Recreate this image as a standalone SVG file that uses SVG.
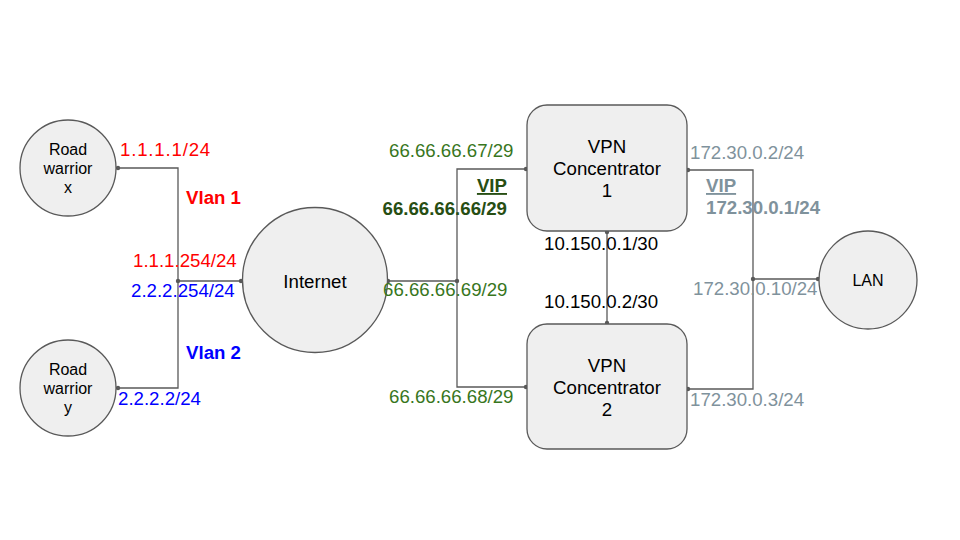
<svg xmlns="http://www.w3.org/2000/svg" width="960" height="540" viewBox="0 0 960 540">
<defs>
<marker id="dot" markerWidth="6" markerHeight="6" refX="3" refY="3" markerUnits="userSpaceOnUse">
<circle cx="3" cy="3" r="2.2" fill="#595959"/>
</marker>
<style>
.node{fill:#efefef;stroke:#595959;stroke-width:1.3}
.conn{fill:none;stroke:#595959;stroke-width:1.3;marker-start:url(#dot);marker-end:url(#dot)}
text{font-family:"Liberation Sans",Arial,sans-serif}
.nt{font-size:16px;fill:#000;text-anchor:middle}
.bt{font-size:18.67px;fill:#000;text-anchor:middle}
.l{font-size:18.67px}
.b{font-weight:bold}
.red{fill:#ff0000}
.blue{fill:#0000ff}
.grn{fill:#38761d}
.dgrn{fill:#274e13}
.gry{fill:#7f929c}
.blk{fill:#000}
</style>
</defs>
<rect width="960" height="540" fill="#ffffff"/>
<g id="connectors">
<path class="conn" d="M118,168 H178 V281 H241"/>
<path class="conn" d="M118,388 H178 V281"/>
<path class="conn" d="M388,281 H457 V169 H526"/>
<path class="conn" d="M457,281 V387 H526"/>
<path class="conn" d="M607,232 V323"/>
<path class="conn" d="M688,170 H753 V389 H688"/>
<path class="conn" d="M753,279 H818"/>
</g>
<g id="road-warrior-x">
<circle class="node" cx="68" cy="168" r="48"/>
<text class="nt" x="68" y="155">Road</text>
<text class="nt" x="68" y="174">warrior</text>
<text class="nt" x="68" y="193">x</text>
</g>
<g id="road-warrior-y">
<circle class="node" cx="68" cy="388" r="48"/>
<text class="nt" x="68" y="375">Road</text>
<text class="nt" x="68" y="394">warrior</text>
<text class="nt" x="68" y="413">y</text>
</g>
<g id="internet">
<circle class="node" cx="315" cy="280" r="72.5"/>
<text class="bt" x="315" y="288">Internet</text>
</g>
<g id="vpn1">
<rect class="node" x="527" y="105" width="160" height="126" rx="20"/>
<text class="bt" x="607" y="153">VPN</text>
<text class="bt" x="607" y="175">Concentrator</text>
<text class="bt" x="607" y="197">1</text>
</g>
<g id="vpn2">
<rect class="node" x="527" y="324" width="160" height="125" rx="20"/>
<text class="bt" x="607" y="372">VPN</text>
<text class="bt" x="607" y="394">Concentrator</text>
<text class="bt" x="607" y="416">2</text>
</g>
<g id="lan">
<circle class="node" cx="868" cy="280" r="49"/>
<text class="nt" x="868" y="286">LAN</text>
</g>
<g id="labels">
<text class="l red" x="120" y="156" letter-spacing="0.8">1.1.1.1/24</text>
<text class="l red b" x="186" y="204">Vlan 1</text>
<text class="l red" x="133" y="267">1.1.1.254/24</text>
<text class="l blue" x="131" y="297">2.2.2.254/24</text>
<text class="l blue b" x="186" y="359">Vlan 2</text>
<text class="l blue" x="118" y="405">2.2.2.2/24</text>
<text class="l grn" x="389" y="157">66.66.66.67/29</text>
<text class="l dgrn b" x="507" y="192" text-anchor="end" text-decoration="underline">VIP</text>
<text class="l dgrn b" x="507" y="215" text-anchor="end">66.66.66.66/29</text>
<text class="l grn" x="383" y="296">66.66.66.69/29</text>
<text class="l grn" x="389" y="403">66.66.66.68/29</text>
<text class="l blk" x="544" y="250">10.150.0.1/30</text>
<text class="l blk" x="544" y="308">10.150.0.2/30</text>
<text class="l gry" x="690" y="159">172.30.0.2/24</text>
<text class="l gry b" x="706" y="192" text-decoration="underline">VIP</text>
<text class="l gry b" x="706" y="214">172.30.0.1/24</text>
<text class="l gry" x="693" y="295">172.30.0.10/24</text>
<text class="l gry" x="690" y="406">172.30.0.3/24</text>
</g>
</svg>
